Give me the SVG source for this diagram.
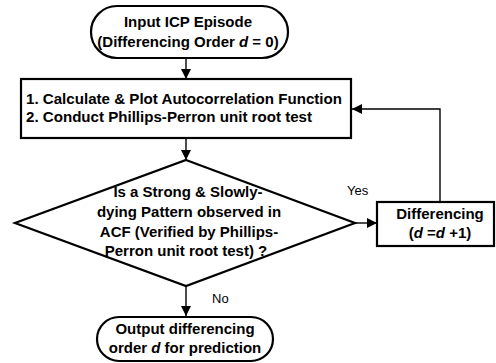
<svg xmlns="http://www.w3.org/2000/svg" width="496" height="363" viewBox="0 0 496 363">
<defs>
<marker id="arr" viewBox="0 0 10 10" refX="10" refY="5" markerWidth="10" markerHeight="10" markerUnits="userSpaceOnUse" orient="auto">
<path d="M0,0 L10,5 L0,10 Z" fill="#000"/>
</marker>
<style>
.shape{fill:#fff;stroke:#000;stroke-width:2.2}
.conn{fill:none;stroke:#000;stroke-width:1.4;marker-end:url(#arr)}
.t{font-family:"Liberation Sans",Arial,sans-serif;font-size:15px;font-weight:bold;fill:#000}
.c{text-anchor:middle}
.lbl{font-family:"Liberation Sans",Arial,sans-serif;font-size:13px;fill:#000}
</style>
</defs>
<rect width="496" height="363" fill="#fff"/>
<g id="connectors">
<line class="conn" x1="186" y1="58" x2="186" y2="79"/>
<line class="conn" x1="186" y1="138" x2="186" y2="160"/>
<line class="conn" x1="186" y1="286" x2="186" y2="316"/>
<line class="conn" x1="355" y1="223" x2="377" y2="223"/>
<polyline class="conn" points="440,202 440,109 352,109"/>
<text class="lbl" x="347" y="195">Yes</text>
<text class="lbl" x="212" y="303">No</text>
</g>
<g id="start">
<rect class="shape" x="91" y="6" width="197" height="52" rx="26" ry="26"/>
<text class="t c" x="188" y="27">Input ICP Episode</text>
<text class="t c" x="188" y="47">(Differencing Order <tspan font-style="italic">d</tspan> = 0)</text>
</g>
<g id="process">
<rect class="shape" x="21" y="79" width="330" height="59"/>
<text class="t" x="26" y="104" textLength="316" lengthAdjust="spacingAndGlyphs">1. Calculate &amp; Plot Autocorrelation Function</text>
<text class="t" x="26" y="122" textLength="286" lengthAdjust="spacingAndGlyphs">2. Conduct Phillips-Perron unit root test</text>
</g>
<g id="decision">
<polygon class="shape" points="186,160 355,223 186,286 15,223" stroke-width="2.6"/>
<text class="t c" x="188" y="197">Is a Strong &amp; Slowly-</text>
<text class="t c" x="189" y="217">dying Pattern observed in</text>
<text class="t c" x="189" y="237">ACF (Verified by Phillips-</text>
<text class="t c" x="186" y="256">Perron unit root test) ?</text>
</g>
<g id="differencing">
<rect class="shape" x="377" y="202" width="117" height="44"/>
<text class="t c" x="440" y="219">Differencing</text>
<text class="t c" x="440" y="238">(<tspan font-style="italic">d</tspan> =<tspan font-style="italic">d</tspan> +1)</text>
</g>
<g id="end">
<rect class="shape" x="97" y="317" width="176" height="44" rx="22" ry="22"/>
<text class="t c" x="185" y="334">Output differencing</text>
<text class="t c" x="185" y="353">order <tspan font-style="italic">d</tspan> for prediction</text>
</g>
</svg>
